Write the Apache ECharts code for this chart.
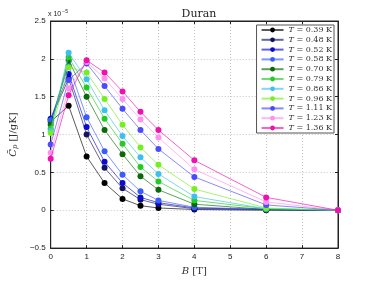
<!DOCTYPE html>
<html><head><meta charset="utf-8">
<script src="https://cdn.jsdelivr.net/npm/echarts@6/dist/echarts.min.js"></script>
<style>html,body{margin:0;padding:0;background:#fff}#c{width:374px;height:281px}</style>
</head><body><div id="c"></div>
<script>
const B = [0, 0.5, 1, 1.5, 2, 2.5, 3, 4, 6, 8];
const temps = ['0.39','0.48','0.52','0.58','0.70','0.79','0.86','0.96','1.11','1.23','1.36'];
const t039 = [1.17, 1.38, 0.71, 0.36, 0.15, 0.06, 0.03, 0.01, 0.00, 0];
const t048 = [1.20, 1.74, 1.00, 0.56, 0.29, 0.14, 0.08, 0.02, 0.01, 0];
const t052 = [1.21, 1.80, 1.10, 0.64, 0.36, 0.17, 0.10, 0.03, 0.01, 0];
const t058 = [1.19, 1.91, 1.23, 0.78, 0.47, 0.25, 0.13, 0.04, 0.01, 0];
const t070 = [1.13, 1.98, 1.50, 1.06, 0.74, 0.45, 0.27, 0.08, 0.01, 0];
const t079 = [1.08, 2.02, 1.62, 1.21, 0.88, 0.57, 0.38, 0.13, 0.02, 0];
const t086 = [1.05, 2.08, 1.73, 1.32, 0.98, 0.70, 0.48, 0.18, 0.02, 0];
const t096 = [1.02, 1.89, 1.82, 1.47, 1.13, 0.83, 0.60, 0.28, 0.03, 0];
const t111 = [0.87, 1.72, 1.94, 1.64, 1.34, 1.06, 0.81, 0.44, 0.07, 0];
const t123 = [0.76, 1.61, 1.96, 1.74, 1.47, 1.20, 0.96, 0.54, 0.11, 0];
const t136 = [0.68, 1.52, 1.98, 1.82, 1.57, 1.30, 1.06, 0.66, 0.17, 0];
const values = [t039,t048,t052,t058,t070,t079,t086,t096,t111,t123,t136];
const colors = ['#000000','#14145e','#0a0ad0','#3a5cff','#0a6a0a','#22cc22','#3cc0ee','#77ee22','#4a4aff','#ff90f0','#ee10b0'];
const yTicks = ['−0.5','0','0.5','1','1.5','2','2.5'];

const serif = '"DejaVu Serif", "Liberation Serif", serif';
const sans = '"Liberation Sans", "DejaVu Sans", sans-serif';

const series = values.map((v, i) => ({
  name: temps[i],
  type: 'line',
  data: B.map((b, j) => [b, v[j]]),
  symbol: 'circle',
  symbolSize: 6,
  itemStyle: { color: colors[i] },
  lineStyle: { color: colors[i], width: 1, opacity: 0.65 },
  z: 2 + i
}));

const tickStyle = { show: true, inside: true, length: 3, lineStyle: { color: '#222' } };
const lineAx = { show: true, onZero: false, lineStyle: { color: '#222' } };
const gridLine = { show: true, lineStyle: { color: '#c4c4c4', type: [1, 2], width: 1 } };

const chart = echarts.init(document.getElementById('c'), null, {renderer: 'canvas'});
chart.setOption({
  animation: false,
  backgroundColor: '#fff',
  title: {
    text: 'Duran', left: 194, top: 4, textAlign: 'center',
    textStyle: { fontFamily: serif, fontSize: 11, fontWeight: 'normal', color: '#222' }
  },
  grid: { left: 49, right: 36, top: 21, bottom: 32, show: true, borderColor: '#222', borderWidth: 1 },
  legend: {
    orient: 'vertical', right: 40, top: 25,
    itemWidth: 22, itemHeight: 6, itemGap: 1.8,
    padding: [1, 2, 1, 4],
    backgroundColor: '#fff', borderColor: '#555', borderWidth: 1,
    data: temps,
    formatter: n => '{i|T} = ' + n + ' K',
    textStyle: { fontFamily: serif, fontSize: 8, color: '#333', lineHeight: 7,
      rich: { i: { fontFamily: serif, fontStyle: 'italic', fontSize: 8, color: '#333' } } }
  },
  xAxis: [{
    type: 'value', min: 0, max: 8, interval: 1,
    name: '{i|B} [T]', nameLocation: 'middle', nameGap: 17,
    nameTextStyle: { fontFamily: serif, fontSize: 10, color: '#333',
      rich: { i: { fontFamily: serif, fontStyle: 'italic', fontSize: 10, color: '#333' } } },
    axisLine: lineAx, axisTick: tickStyle,
    axisLabel: { fontFamily: sans, fontSize: 8, color: '#222', margin: 5 },
    splitLine: gridLine
  }, {
    type: 'value', min: 0, max: 8, interval: 1, position: 'top',
    axisLine: lineAx, axisTick: tickStyle,
    axisLabel: { show: false }, splitLine: { show: false }
  }],
  yAxis: [{
    type: 'value', min: -0.5, max: 2.5, interval: 0.5,
    name: '{c|C̄}{s|p} [J/gK]', nameLocation: 'middle', nameGap: 28, nameRotate: 90,
    nameTextStyle: { fontFamily: serif, fontSize: 10, color: '#333',
      rich: { c: { fontFamily: serif, fontStyle: 'italic', fontSize: 10, color: '#333' },
              s: { fontFamily: serif, fontStyle: 'italic', fontSize: 7, color: '#333', verticalAlign: 'bottom', padding: [5,0,0,0] } } },
    axisLine: lineAx, axisTick: tickStyle,
    axisLabel: { fontFamily: sans, fontSize: 8, color: '#222', margin: 5,
      formatter: v => yTicks[Math.round((v + 0.5) / 0.5)] },
    splitLine: gridLine
  }, {
    type: 'value', min: -0.5, max: 2.5, interval: 0.5, position: 'right',
    axisLine: lineAx, axisTick: tickStyle,
    axisLabel: { show: false }, splitLine: { show: false }
  }],
  graphic: [{
    type: 'text', left: 48, top: 9,
    style: { text: '{a|x 10}{b|−5}', rich: {
      a: { fontFamily: sans, fontSize: 7, fill: '#222' },
      b: { fontFamily: sans, fontSize: 5, fill: '#222', verticalAlign: 'top', padding: [0,0,5,1] } } }
  }],
  series: series
});
</script></body></html>
